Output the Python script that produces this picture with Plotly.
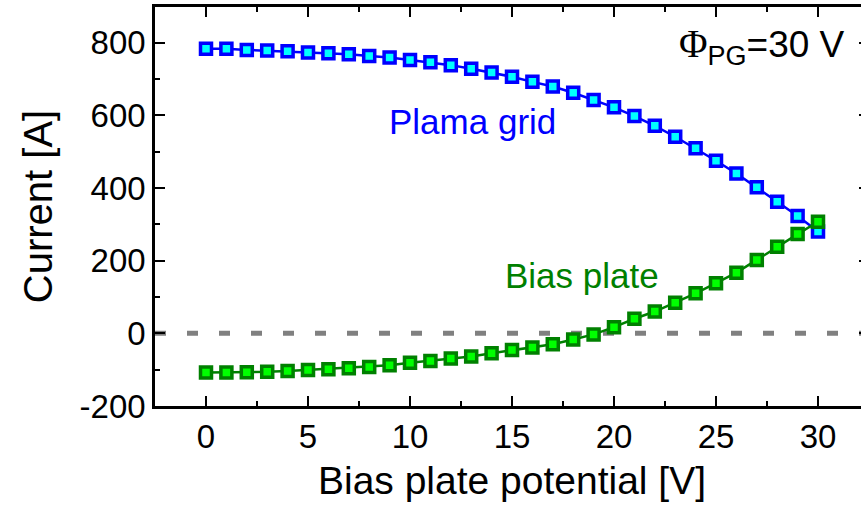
import plotly.graph_objects as go

bias_potential = list(range(0, 31))
plasma_grid = [783, 783, 780, 778, 776, 773, 771, 768, 763, 759, 752, 746, 738, 728, 718,
               706, 692, 679, 662, 642, 622, 598, 571, 541, 509, 475, 440, 402, 362, 323, 280]
bias_plate = [-108, -108, -107, -106, -104, -101, -99, -96, -93, -88, -81, -76, -69, -64, -55,
              -46, -39, -30, -17, -3, 17, 40, 60, 84, 110, 138, 167, 202, 238, 273, 307]

x_ticks = [0, 5, 10, 15, 20, 25, 30]
y_ticks = [-200, 0, 200, 400, 600, 800]

FONT = "Arial, Liberation Sans, sans-serif"

fig = go.Figure()

fig.add_shape(type="line", xref="paper", yref="y", x0=0, x1=1, y0=0, y1=0,
              line=dict(color="#808080", width=5, dash="11px,21px"), layer="below")

fig.add_trace(go.Scatter(
    x=bias_potential, y=plasma_grid, mode="lines+markers", name="Plama grid",
    line=dict(color="#0000FF", width=2.5),
    marker=dict(symbol="square", size=11, color="#00FFFF",
                line=dict(color="#0000FF", width=3.5)),
    showlegend=False))

fig.add_trace(go.Scatter(
    x=bias_potential, y=bias_plate, mode="lines+markers", name="Bias plate",
    line=dict(color="#008000", width=2.5),
    marker=dict(symbol="square", size=11, color="#00FF00",
                line=dict(color="#008000", width=3.5)),
    showlegend=False))

fig.add_annotation(x=13.08, y=584, text="Plama grid", showarrow=False,
                   font=dict(family=FONT, size=35, color="#0000FF"),
                   xanchor="center", yanchor="middle")
fig.add_annotation(x=18.43, y=160, text="Bias plate", showarrow=False,
                   font=dict(family=FONT, size=35, color="#008000"),
                   xanchor="center", yanchor="middle")
fig.add_annotation(x=31.4, y=790,
                   text="<span style='font-family:Liberation Serif, Times New Roman, serif;font-size:39px'>Φ</span>"
                        "<sub><span style='font-size:27px'>PG</span></sub>=30 V",
                   showarrow=False,
                   font=dict(family=FONT, size=37, color="#000000"),
                   xanchor="right", yanchor="middle")

fig.update_layout(
    width=869, height=510,
    margin=dict(l=155, r=0, t=7, b=104),
    paper_bgcolor="white", plot_bgcolor="white",
    font=dict(family=FONT, color="black"),
    xaxis=dict(
        range=[-2.5, 32.5], tickvals=x_ticks, ticktext=[str(v) for v in x_ticks],
        ticks="inside", ticklen=10, tickwidth=2, tickcolor="black",
        minor=dict(dtick=2.5, tick0=0, ticks="inside", ticklen=5, tickwidth=2, tickcolor="black"),
        showline=True, linecolor="black", linewidth=2.5, mirror="ticks",
        showgrid=False, zeroline=False, automargin=False,
        tickfont=dict(family=FONT, size=33),
        title=dict(text="Bias plate potential [V]", font=dict(family=FONT, size=39), standoff=13),
    ),
    yaxis=dict(
        range=[-200, 898], tickvals=y_ticks, ticktext=[str(v) for v in y_ticks],
        ticks="inside", ticklen=10, tickwidth=2, tickcolor="black",
        minor=dict(dtick=100, tick0=0, ticks="inside", ticklen=5, tickwidth=2, tickcolor="black"),
        showline=True, linecolor="black", linewidth=2.5, mirror="ticks",
        showgrid=False, zeroline=False, automargin=False,
        tickfont=dict(family=FONT, size=33),
        title=dict(text="Current [A]", font=dict(family=FONT, size=40), standoff=15),
    ),
)

fig.write_html(
    "out.html",
    config={"displayModeBar": False},
    post_script="document.body.style.margin='0px';document.body.style.overflow='hidden';",
)
